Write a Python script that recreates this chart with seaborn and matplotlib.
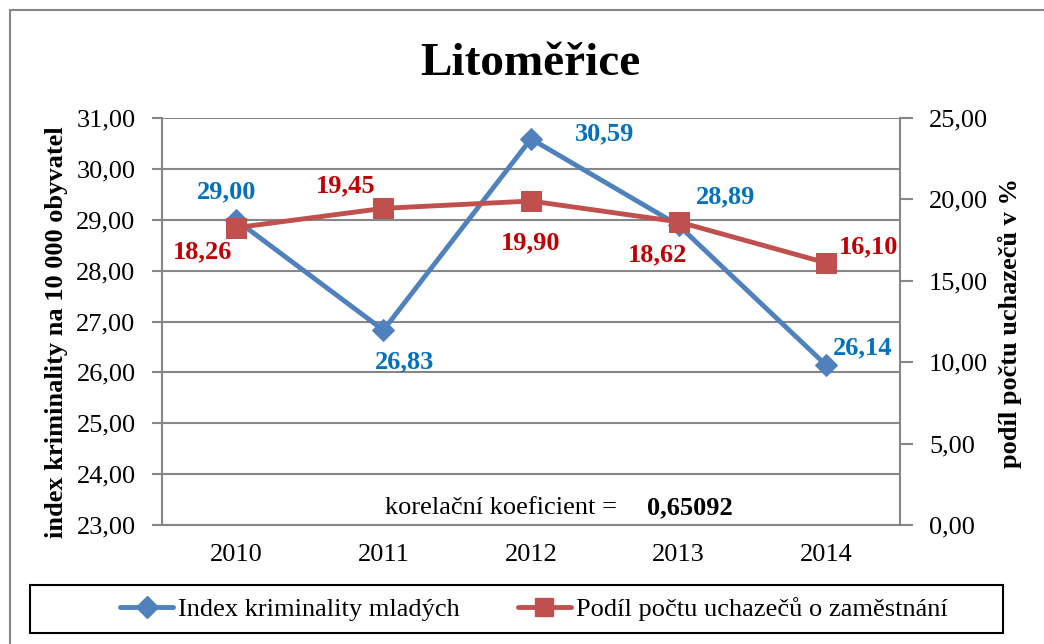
import numpy as np
import pandas as pd
import matplotlib
matplotlib.use("Agg")
import matplotlib.pyplot as plt
from matplotlib.patches import Rectangle
from matplotlib.lines import Line2D
import seaborn as sns

# ---- data ----
years = ["2010", "2011", "2012", "2013", "2014"]
index_kriminality = [29.00, 26.83, 30.59, 28.89, 26.14]
podil_uchazecu = [18.26, 19.45, 19.90, 18.62, 16.10]
left_ticks = [23, 24, 25, 26, 27, 28, 29, 30, 31]
right_ticks = [0, 5, 10, 15, 20, 25]
title = "Litoměřice"
series1_name = "Index kriminality mladých"
series2_name = "Podíl počtu uchazečů o zaměstnání"
ylabel_left = "index kriminality na 10 000 obyvatel"
ylabel_right = "podíl počtu uchazečů v %"
corr_label = "korelační koeficient ="
corr_value = "0,65092"

# label offsets in pixels (dx, dy)
off1 = [(-9, 28), (21, -32), (74, 5), (47, 29), (36, 17)]
off2 = [(-33, -24), (-38, 23), (0, -42), (-21, -33), (42, 16)]

sns.set_theme(style="white")
plt.rcParams["font.family"] = ["Liberation Serif", "DejaVu Serif"]
plt.rcParams["text.color"] = "black"
plt.rcParams["axes.labelcolor"] = "black"
plt.rcParams["xtick.color"] = "black"
plt.rcParams["ytick.color"] = "black"

W, H = 1044, 644
fig = plt.figure(figsize=(W / 100, H / 100), dpi=100)
fig.patch.set_facecolor("white")

GRAY = "#868686"
BLUE = "#4F81BD"
RED = "#C0504D"
BLUE_T = "#0070C0"
RED_T = "#C00000"
FS = 19
LW = 3.5

ax = fig.add_axes([162 / W, 1 - 525 / H, 738 / W, 407 / H])
ax2 = ax.twinx()

x = np.arange(len(years))
df = pd.DataFrame({"x": x, "a": index_kriminality, "b": podil_uchazecu})

sns.lineplot(data=df, x="x", y="a", ax=ax, color=BLUE, linewidth=LW,
             marker="D", markersize=11, markeredgecolor=BLUE, markerfacecolor=BLUE)
sns.lineplot(data=df, x="x", y="b", ax=ax2, color=RED, linewidth=LW,
             marker="s", markersize=14, markeredgecolor=RED, markerfacecolor=RED)

ax.set_xlim(-0.5, len(years) - 0.5)
ax.set_ylim(23, 31)
ax2.set_ylim(0, 25)

ax.set_yticks(left_ticks)
ax.set_yticklabels([f"{t:.2f}".replace(".", ",") for t in left_ticks], fontsize=FS)
ax2.set_yticks(right_ticks)
ax2.set_yticklabels([f"{t:.2f}".replace(".", ",") for t in right_ticks], fontsize=FS)
ax.set_xticks(x)
ax.set_xticklabels(years, fontsize=FS)
ax.set_xticks(np.arange(-0.5, len(years), 1.0), minor=True)

ax.tick_params(axis="x", which="major", length=0, pad=14, labelcolor="black")
ax.tick_params(axis="x", which="minor", length=7, width=1.5, color=GRAY, direction="out")
ax.tick_params(axis="y", length=7, width=1.5, color=GRAY, direction="out", pad=12, labelcolor="black")
ax2.tick_params(axis="y", length=9, width=1.5, color=GRAY, direction="out", pad=12, labelcolor="black")

ax.grid(True, axis="y", color=GRAY, linewidth=1.5)
ax.grid(False, axis="x")
ax2.grid(False)
ax.set_axisbelow(True)

for a in (ax, ax2):
    a.set_xlabel("")
    a.set_ylabel("")
    a.spines["top"].set_visible(False)
    for s in ("left", "right", "bottom"):
        a.spines[s].set_color(GRAY)
        a.spines[s].set_linewidth(1.5)
ax.spines["right"].set_visible(False)
ax2.spines["left"].set_visible(False)
ax2.spines["bottom"].set_visible(False)

# data labels
for i, v in enumerate(index_kriminality):
    ax2.annotate(f"{v:.2f}".replace(".", ","), xy=(x[i], v), xycoords=ax.transData,
                 xytext=off1[i], textcoords="offset pixels", ha="center", va="center",
                 fontsize=FS, fontweight="bold", color=BLUE_T, zorder=10)
for i, v in enumerate(podil_uchazecu):
    ax2.annotate(f"{v:.2f}".replace(".", ","), xy=(x[i], v), xycoords=ax2.transData,
                 xytext=off2[i], textcoords="offset pixels", ha="center", va="center",
                 fontsize=FS, fontweight="bold", color=RED_T, zorder=10)

# titles / labels
fig.text(530 / W, 1 - 75 / H, title, ha="center", va="baseline",
         fontsize=34, fontweight="bold", color="black")
fig.text(57 / W, 1 - 332 / H, ylabel_left, rotation=90, ha="center", va="center",
         fontsize=FS, fontweight="bold", color="black")
fig.text(1010 / W, 1 - 323 / H, ylabel_right, rotation=90, ha="center", va="center",
         fontsize=FS, fontweight="bold", color="black")

# correlation annotation
fig.text(385 / W, 1 - 508 / H, corr_label, ha="left", va="center", fontsize=FS, color="black")
fig.text(647 / W, 1 - 508 / H, corr_value, ha="left", va="center", fontsize=FS,
         fontweight="bold", color="black")

# legend
handles = [
    Line2D([0], [0], color=BLUE, linewidth=LW, marker="D", markersize=11),
    Line2D([0], [0], color=RED, linewidth=LW, marker="s", markersize=13),
]
leg = fig.legend(handles, [series1_name, series2_name], loc="center",
                 bbox_to_anchor=(534 / W, 1 - 609 / H), ncol=2, frameon=False,
                 fontsize=FS, handlelength=2.0, handletextpad=0.2, columnspacing=2.2)
for t in leg.get_texts():
    t.set_color("black")
fig.patches.append(Rectangle((30 / W, 1 - 633 / H), (1003 - 30) / W, 48 / H,
                             transform=fig.transFigure, fill=False,
                             edgecolor="black", linewidth=1.5))
# outer chart border
fig.patches.append(Rectangle((10 / W, -0.1), 1.2, 1 - 10 / H + 0.1,
                             transform=fig.transFigure, fill=False,
                             edgecolor=GRAY, linewidth=1.5))

fig.savefig("out.png", dpi=100)
